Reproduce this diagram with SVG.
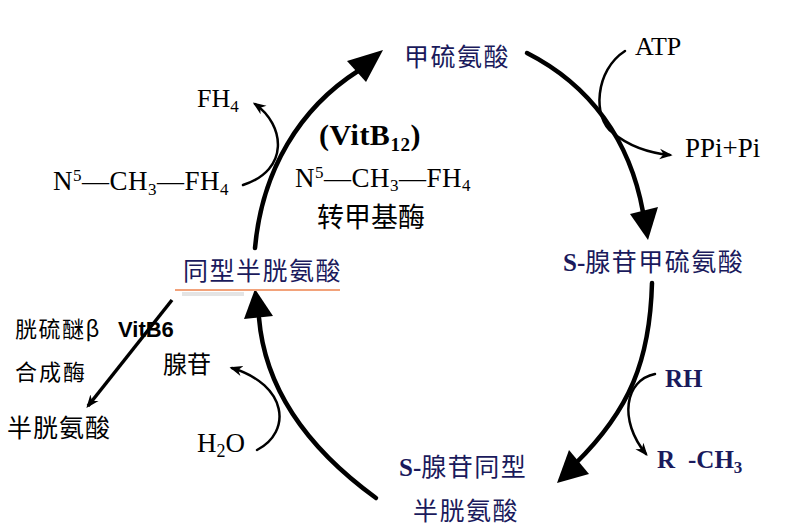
<svg xmlns="http://www.w3.org/2000/svg" width="800" height="527" viewBox="0 0 800 527">
<style>
.cn{font-family:"Noto Sans CJK SC","Noto Sans",sans-serif;fill:#1a1a5c;font-size:25px;letter-spacing:1.5px}
.cb{font-family:"Noto Sans CJK SC","Noto Sans",sans-serif;fill:#000;font-size:24px}
.sf{font-family:"Liberation Serif","Noto Sans CJK SC",serif;fill:#000;font-size:26px}
.sb{font-family:"Liberation Serif","Noto Sans CJK SC",serif;font-weight:bold;fill:#1a1a5c;font-size:25px}
.main{fill:none;stroke:#000;stroke-width:4.5;stroke-linecap:round}
.thin{fill:none;stroke:#000;stroke-width:2.5;stroke-linecap:round}
.head{fill:#000}
</style>
<defs>
<marker id="ah" viewBox="0 0 10 10" refX="8" refY="5" markerUnits="userSpaceOnUse" markerWidth="13" markerHeight="13" orient="auto">
<path d="M0,1 L10,5 L0,9 L3,5 z" fill="#000"/>
</marker>
</defs>
<rect width="800" height="527" fill="#fff"/>

<g id="connectors">
<path class="main" d="M255,248 C262,170 300,108 358,71"/>
<polygon class="head" points="383,50 347,61 366,82"/>
<path class="main" d="M527,53 C590,85 630,140 643,212"/>
<polygon class="head" points="648,240 630,214 658,207"/>
<path class="main" d="M652,283 C650,360 630,410 575,464"/>
<polygon class="head" points="557,483 569,450 589,474"/>
<path class="main" d="M376,498 C310,450 265,390 259,318"/>
<polygon class="head" points="255,289 244,319 273,316"/>
<path class="thin" d="M243,185 C290,170 285,125 255,104" marker-end="url(#ah)"/>
<path class="thin" d="M625,51 C595,70 592,118 613,133 C630,147 650,153 670,155" marker-end="url(#ah)"/>
<path class="thin" d="M655,374 C625,380 618,420 646,454" marker-end="url(#ah)"/>
<path class="thin" d="M257,450 C292,432 288,385 232,368" marker-end="url(#ah)"/>
<path fill="none" stroke="#000" stroke-width="3.5" d="M172,300 L88,406" marker-end="url(#ah)"/>
</g>

<g id="methionine"><text class="cn" x="404" y="66">甲硫氨酸</text></g>
<g id="sam"><text class="cn" x="563" y="271"><tspan class="sb" style="letter-spacing:0">S-</tspan>腺苷甲硫氨酸</text></g>
<g id="sah">
<text class="cn" x="399" y="476"><tspan class="sb" style="letter-spacing:0">S-</tspan>腺苷同型</text>
<text class="cn" x="413" y="520">半胱氨酸</text>
</g>
<g id="homocysteine">
<rect x="182" y="292" width="62" height="4" fill="#d8d8d8" opacity="0.7"/>
<line x1="175" y1="290" x2="340" y2="290" stroke="#f2a27a" stroke-width="2"/>
<text class="cn" x="183" y="280">同型半胱氨酸</text>
</g>
<g id="cysteine">
<text class="cb" x="15" y="337" style="font-size:22px;letter-spacing:1.5px">胱硫醚β<tspan x="118" style="font-family:'Liberation Sans',Arial,sans-serif;font-weight:bold;font-size:22px;letter-spacing:0">VitB6</tspan></text>
<text class="cb" x="15" y="380" style="font-size:22px;letter-spacing:2px">合成酶</text>
<text class="cb" x="7" y="437" style="font-size:25px;letter-spacing:1px">半胱氨酸</text>
</g>
<g id="atp">
<text class="sf" x="635" y="55">ATP</text>
<text class="sf" x="685" y="157" style="font-size:27px">PPi+Pi</text>
</g>
<g id="rh">
<text class="sb" x="665" y="387">RH</text>
<text class="sb" x="657" y="468">R<tspan x="688">-CH</tspan><tspan font-size="17" dy="5">3</tspan></text>
</g>
<g id="adenosine">
<text class="cb" x="163" y="373">腺苷</text>
<text class="sf" x="197" y="452" style="font-size:27px">H<tspan font-size="18" dy="5">2</tspan><tspan dy="-5">O</tspan></text>
</g>
<g id="folate">
<text class="sf" x="197" y="107">FH<tspan font-size="17" dy="5">4</tspan></text>
<text class="sf" x="53" y="190" style="font-size:27px;letter-spacing:0.5px">N<tspan font-size="17" dy="-9">5</tspan><tspan dy="9">—CH</tspan><tspan font-size="17" dy="5">3</tspan><tspan dy="-5">—FH</tspan><tspan font-size="17" dy="5">4</tspan></text>
</g>
<g id="enzyme">
<text class="sf" x="319" y="145" style="font-weight:bold;font-size:30px;letter-spacing:0.5px">(VitB<tspan font-size="19" dy="6">12</tspan><tspan dy="-6">)</tspan></text>
<text class="sf" x="295" y="187" style="font-size:27px;letter-spacing:0.5px">N<tspan font-size="17" dy="-9">5</tspan><tspan dy="9">—CH</tspan><tspan font-size="17" dy="4">3</tspan><tspan dy="-4">—FH</tspan><tspan font-size="17" dy="4">4</tspan></text>
<text class="cb" x="317" y="227" style="font-size:27px">转甲基酶</text>
</g>
</svg>
